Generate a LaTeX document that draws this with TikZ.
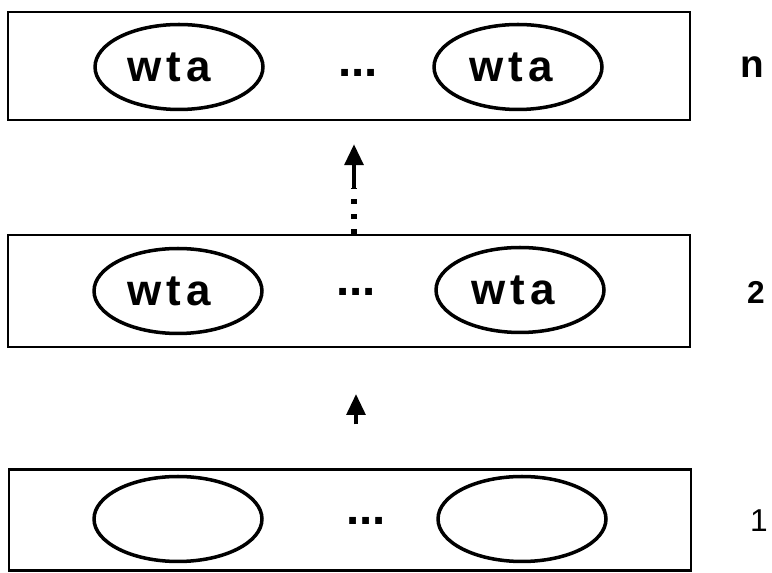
\documentclass[tikz,border=0pt]{standalone}
\usepackage{fontspec}
\setmainfont{Liberation Sans}
\usetikzlibrary{arrows.meta, positioning, shapes.geometric}

\begin{document}
\begin{tikzpicture}[x=0.02cm,y=-0.02cm,
    layer/.style={draw,line width=1.4pt,inner sep=0pt,minimum width=13.64cm},
    unit/.style={draw,ellipse,line width=2pt,inner sep=0pt,
      minimum width=3.36cm,minimum height=1.70cm},
    word/.style={font=\fontsize{25}{29}\selectfont\bfseries\addfontfeature{LetterSpace=12}},
    dots/.style={font=\fontsize{27}{30}\selectfont\bfseries},
    idx/.style={font=\fontsize{18}{21}\selectfont},
    up/.style={line width=2.6pt,-{Triangle[length=12pt,width=10.5pt]}},
    dotline/.style={line width=3.2pt,dash pattern=on 3pt off 5.5pt}]
  \useasboundingbox (0,0) rectangle (772,573);
  % the three layers
  \node[layer,minimum height=2.16cm] (layern) at (349,66) {};
  \node[layer,minimum height=2.24cm] (layertwo) at (349,291) {};
  \node[layer,minimum height=2.02cm] (layerone) at (350,520) {};
  % units of layer n
  \node[unit] (topL) at (179,67) {};
  \node[unit] (topR) at (518,67) {};
  \node[word] at ([xshift=-0.2cm]topL) {wta};
  \node[word] at ([xshift=-0.14cm]topR) {wta};
  \node[dots] (dotsn) at (358,73) {...};
  % units of layer 2
  \node[unit] (midL) at (178,291) {};
  \node[unit] (midR) at (520,290) {};
  \node[word] at ([xshift=-0.18cm]midL) {wta};
  \node[word] at ([xshift=-0.14cm]midR) {wta};
  \node[dots] (dotstwo) at (356,292) {...};
  % units of layer 1
  \node[unit] (botL) at (178,519) {};
  \node[unit] (botR) at (522,519) {};
  \node[dots] (dotsone) at (366,521) {...};
  % layer numbers
  \node[idx,font=\fontsize{22}{25}\selectfont\bfseries] (idxn) at (752,67) {n};
  \node[idx,font=\fontsize{18}{21}\selectfont\bfseries] (idxtwo) at (756,292) {2};
  \node[idx] (idxone) at (759,521) {1};
  % connections between layers
  \draw[up,shorten <=25pt,shorten >=26pt] (layerone.north -| dotstwo) -- (layertwo.south -| dotstwo);
  \coordinate (gap) at (354,188);
  \draw[dotline] (layertwo.north -| gap) -- (gap);
  \draw[up,shorten >=13pt] (gap) -- (layern.south -| gap);
\end{tikzpicture}
\end{document}
